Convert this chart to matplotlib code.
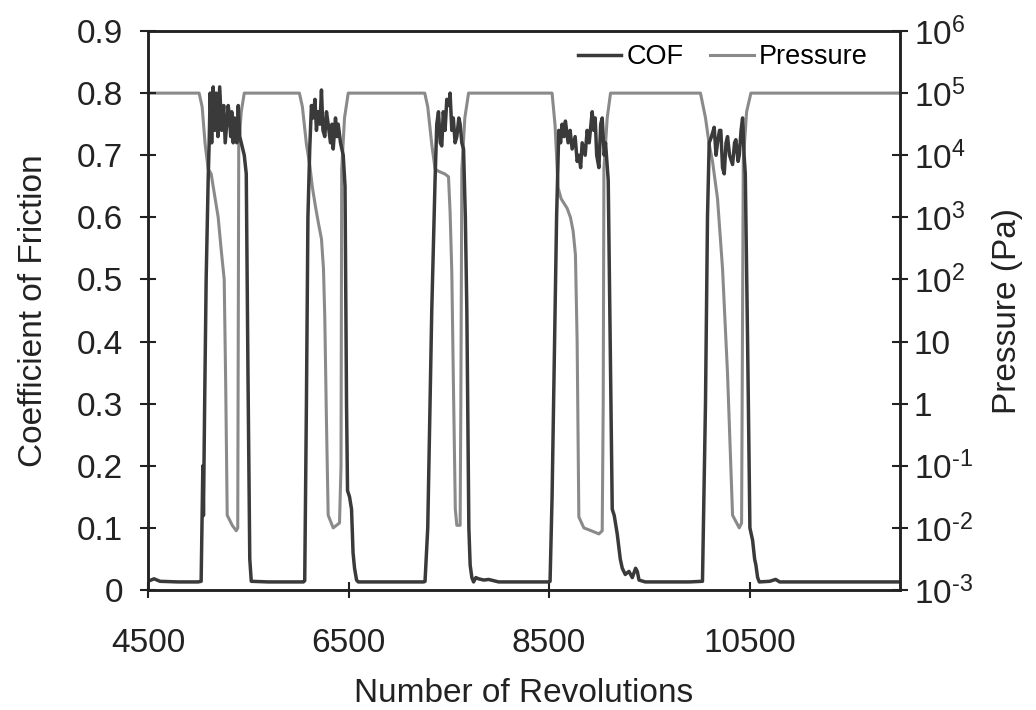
import matplotlib
matplotlib.use('Agg')
import matplotlib.pyplot as plt
from matplotlib import rcParams

rcParams['font.family'] = ['Liberation Sans', 'DejaVu Sans']
rcParams['mathtext.fontset'] = 'custom'
rcParams['mathtext.rm'] = 'Liberation Sans'
rcParams['mathtext.it'] = 'Liberation Sans'

# 数据: COF
cof_rev = [4500, 4560, 4620, 4800, 5000, 5030, 5040, 5047, 5053, 5065, 5080, 5100, 5110, 5120,
           5135, 5150, 5165, 5180, 5197, 5215, 5235, 5255, 5270, 5280, 5300, 5313, 5325, 5335,
           5350, 5363, 5385, 5400, 5415, 5430, 5460, 5480, 5497, 5515, 5530, 5700, 5900,
           6050, 6063, 6080, 6095, 6113, 6130, 6147, 6165, 6180, 6197, 6215, 6230, 6245, 6263,
           6280, 6297, 6320, 6335, 6347, 6370, 6385, 6397, 6420, 6447, 6465, 6480, 6490, 6510,
           6530, 6545, 6560, 6580, 6597, 6800, 7000,
           7250, 7263, 7290, 7330, 7363, 7380, 7397, 7415, 7430, 7445, 7463, 7480, 7500, 7513,
           7530, 7545, 7563, 7580, 7600, 7613, 7630, 7647, 7665, 7680, 7700, 7713, 7730, 7747,
           7770, 7797, 7850, 7897, 7997, 8200,
           8500, 8510, 8530, 8550, 8575, 8597, 8615, 8630, 8650, 8663, 8690, 8710, 8730, 8760,
           8780, 8797, 8815, 8830, 8860, 8880, 8900, 8930, 8945, 8960, 8975, 8997, 9015, 9030,
           9050, 9063, 9090, 9110, 9130, 9150, 9180, 9210, 9230, 9260, 9297, 9330, 9363, 9380,
           9397, 9460, 9700, 9900,
           10030, 10060, 10080, 10097, 10120, 10147, 10165, 10180, 10200, 10213, 10230, 10247,
           10265, 10280, 10300, 10330, 10350, 10363, 10385, 10397, 10415, 10430, 10445, 10457,
           10480, 10503, 10530, 10550, 10563, 10580, 10597, 10700, 10760, 10800, 11200, 11600,
           12000]
cof = [0.014, 0.018, 0.014, 0.013, 0.013, 0.014, 0.12, 0.2, 0.12, 0.3, 0.5, 0.66, 0.72, 0.80,
       0.72, 0.81, 0.74, 0.80, 0.73, 0.81, 0.74, 0.78, 0.72, 0.74, 0.78, 0.76, 0.73, 0.77,
       0.72, 0.76, 0.72, 0.78, 0.73, 0.72, 0.70, 0.67, 0.35, 0.05, 0.014, 0.013, 0.013,
       0.013, 0.015, 0.3, 0.6, 0.71, 0.78, 0.76, 0.79, 0.74, 0.77, 0.75, 0.805, 0.74, 0.73,
       0.77, 0.75, 0.72, 0.75, 0.71, 0.76, 0.73, 0.75, 0.72, 0.70, 0.65, 0.3, 0.16, 0.15,
       0.13, 0.06, 0.035, 0.016, 0.013, 0.013, 0.013,
       0.013, 0.014, 0.1, 0.45, 0.66, 0.75, 0.77, 0.72, 0.715, 0.77, 0.74, 0.79, 0.78, 0.80,
       0.74, 0.76, 0.72, 0.73, 0.76, 0.75, 0.72, 0.71, 0.6, 0.45, 0.1, 0.04, 0.02, 0.013,
       0.02, 0.018, 0.016, 0.017, 0.013, 0.013,
       0.013, 0.014, 0.15, 0.35, 0.6, 0.74, 0.72, 0.75, 0.73, 0.755, 0.72, 0.74, 0.71, 0.73,
       0.69, 0.70, 0.68, 0.72, 0.70, 0.74, 0.72, 0.77, 0.74, 0.76, 0.70, 0.68, 0.75, 0.76,
       0.70, 0.72, 0.66, 0.4, 0.13, 0.12, 0.09, 0.05, 0.035, 0.025, 0.03, 0.02, 0.035, 0.03,
       0.016, 0.013, 0.013, 0.013,
       0.014, 0.3, 0.6, 0.72, 0.73, 0.745, 0.70, 0.72, 0.74, 0.74, 0.68, 0.67,
       0.72, 0.73, 0.70, 0.685, 0.72, 0.725, 0.69, 0.70, 0.74, 0.76, 0.70, 0.67,
       0.4, 0.10, 0.08, 0.05, 0.04, 0.02, 0.013, 0.014, 0.017, 0.013, 0.013, 0.013,
       0.013]

# 数据: 压力 (Pa)
p_rev = [4500, 5010, 5040, 5070, 5100, 5130, 5160, 5200, 5230, 5260, 5275, 5290, 5340, 5380,
         5395, 5405, 5430, 5460,
         6010, 6040, 6080, 6113, 6140, 6170, 6200, 6230, 6250, 6263, 6280, 6297, 6347, 6410,
         6425, 6432, 6460, 6497,
         7260, 7290, 7330, 7363, 7400, 7460, 7497, 7513, 7530, 7547, 7565, 7580, 7613, 7620,
         7630, 7660, 7697,
         8530, 8560, 8590, 8620, 8647, 8680, 8713, 8740, 8763, 8780, 8797, 8847, 8920, 8997,
         9030, 9040, 9047, 9080, 9113,
         10010, 10060, 10097, 10130, 10180, 10230, 10280, 10330, 10397, 10420, 10437, 10470,
         10513, 12000]
pressure = [1e5, 1e5, 6e4, 1.5e4, 6e3, 5e3, 2.5e3, 1e3, 3e2, 1e2, 2, 1.6e-2, 1.1e-2, 9e-3,
            1e-2, 1.4e4, 5e4, 1e5,
            1e5, 6e4, 1.5e4, 7e3, 3e3, 1.5e3, 8e2, 4.5e2, 1.5e2, 25, 0.5, 1.6e-2, 1e-2, 1.2e-2,
            0.1, 6e3, 4e4, 1e5,
            1e5, 6e4, 1.5e4, 6e3, 5.5e3, 5e3, 4.5e3, 1.2e3, 1.3e2, 1.6, 2e-2, 1.1e-2, 1.1e-2, 1,
            6e3, 4e4, 1e5,
            1e5, 3e4, 3e3, 2e3, 1.7e3, 1.4e3, 1e3, 6e2, 2.5e2, 10, 1.5e-2, 1e-2, 9e-3, 8e-3,
            9e-3, 1, 6e3, 4e4, 1e5,
            1e5, 4e4, 1.5e4, 8e3, 2e3, 1.5e2, 3, 1.6e-2, 1e-2, 1.2e-2, 8e3, 5e4,
            1e5, 1e5]

p_ticks = [1e-3, 1e-2, 1e-1, 1, 10, 1e2, 1e3, 1e4, 1e5, 1e6]
p_labels = [r'$\mathregular{10^{\text{-}3}}$', r'$\mathregular{10^{\text{-}2}}$',
            r'$\mathregular{10^{\text{-}1}}$', '1', '10', r'$\mathregular{10^{2}}$',
            r'$\mathregular{10^{3}}$', r'$\mathregular{10^{4}}$', r'$\mathregular{10^{5}}$',
            r'$\mathregular{10^{6}}$']
x_ticks = [4500, 6500, 8500, 10500]

fig = plt.figure(figsize=(10.36, 7.10), dpi=100)
ax = fig.add_axes([148 / 1036, 1 - 590 / 710, 752 / 1036, 559 / 710])
ax2 = ax.twinx()

l2, = ax2.plot(p_rev, pressure, color='#8a8a8a', lw=2.2, label='Pressure')
l1, = ax.plot(cof_rev, cof, color='#3a3a3a', lw=2.5, label='COF')

# COF 画在上层
ax.set_zorder(ax2.get_zorder() + 1)
ax.patch.set_visible(False)

ax.set_xlim(4500, 12000)
ax.set_ylim(0, 0.9)
ax.set_xticks(x_ticks)
ax.set_yticks([0, 0.1, 0.2, 0.3, 0.4, 0.5, 0.6, 0.7, 0.8, 0.9])
ax.set_yticklabels(['0', '0.1', '0.2', '0.3', '0.4', '0.5', '0.6', '0.7', '0.8', '0.9'])
ax2.set_yscale('log')
ax2.set_ylim(1e-3, 1e6)
ax2.set_yticks(p_ticks)
ax2.set_yticklabels(p_labels)
ax2.minorticks_off()

for a in (ax, ax2):
    for s in a.spines.values():
        s.set_linewidth(1.8)
        s.set_color('#222222')
ax.tick_params(axis='both', direction='inout', length=12, width=1.5, labelsize=24,
               colors='#222222')
ax.tick_params(axis='y', pad=12)
ax.tick_params(axis='x', pad=21)
ax2.tick_params(axis='y', direction='inout', length=12, width=1.5, labelsize=24,
                colors='#222222', pad=4)

ax.set_xlabel('Number of Revolutions', fontsize=24, color='#222222', labelpad=14)
ax.set_ylabel('Coefficient of Friction', fontsize=24, color='#222222', labelpad=20)
ax2.set_ylabel('Pressure (Pa)', fontsize=24, color='#222222', labelpad=14)

ax.legend(handles=[l1, l2], loc='upper right', ncol=2, frameon=False, fontsize=19.5,
          handlelength=1.6, handletextpad=0.2, columnspacing=1.0,
          bbox_to_anchor=(0.99, 1.02))

plt.savefig('out.png', dpi=100)
